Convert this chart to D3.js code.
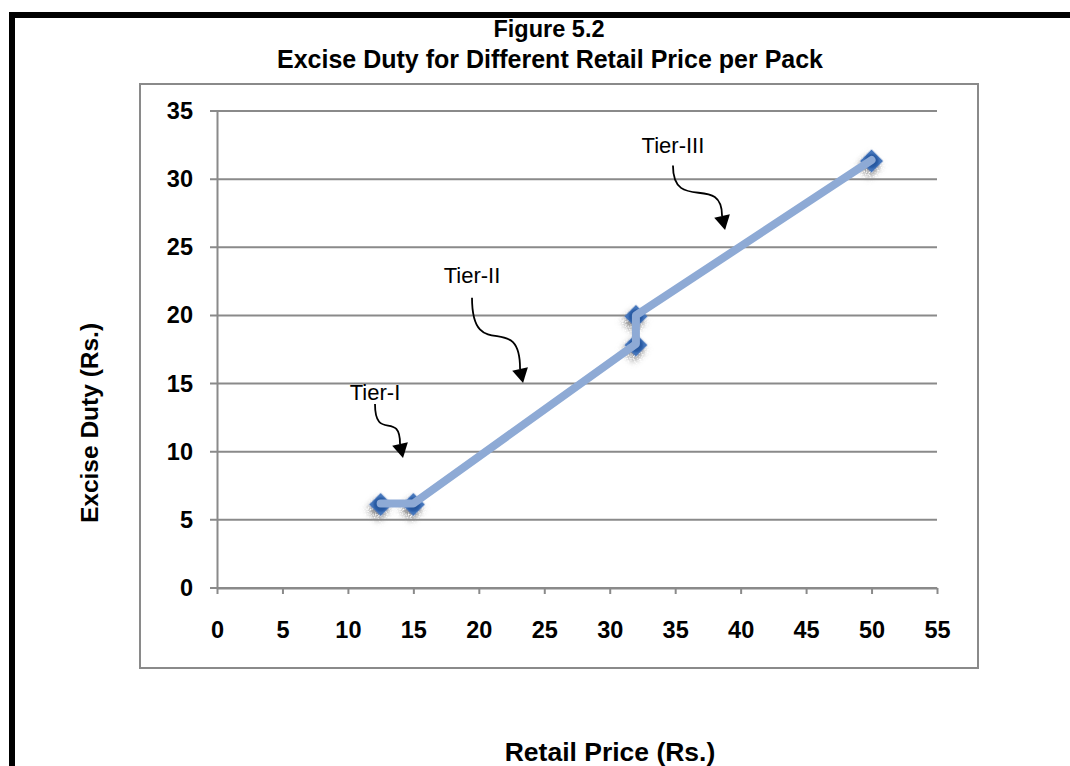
<!DOCTYPE html>
<html>
<head>
<meta charset="utf-8">
<script src="https://cdn.jsdelivr.net/npm/d3@7"></script>
<style>
  html, body { margin: 0; padding: 0; background: #fff; }
  svg { display: block; font-family: "Liberation Sans", Arial, sans-serif; }
</style>
</head>
<body>
<svg id="chart" width="1070" height="766"></svg>
<script>
// Retail price per pack (Rs.) and the excise duty charged at that price
const retailPrice = [12.5, 15, 32, 32, 50];
const exciseDuty  = [6.2, 6.2, 17.9, 20, 31.4];

const xTicks = [0, 5, 10, 15, 20, 25, 30, 35, 40, 45, 50, 55];
const yTicks = [0, 5, 10, 15, 20, 25, 30, 35];

// Tier callouts: label anchor, arrow start and arrow tip, in data units
const tierNames  = ["Tier-I", "Tier-II", "Tier-III"];
const tierLabelX = [12.07, 19.48, 34.83];
const tierLabelY = [13.8, 22.4, 31.9];
const tierStartY = [13.5, 21.3, 31.0];
const tierTipX   = [14.21, 23.38, 38.81];
const tierTipY   = [9.54, 15.04, 26.27];

const titleLines = ["Figure 5.2", "Excise Duty for Different Retail Price per Pack"];
const xTitle = "Retail Price (Rs.)";
const yTitle = "Excise Duty (Rs.)";

const svg = d3.select("#chart");
const gridColor = "#8a8a8a";
const FONT = "Liberation Sans, Arial, sans-serif";

// page frame (top and left rules)
svg.append("rect").attr("x", 9).attr("y", 12).attr("width", 1070).attr("height", 6).attr("fill", "#000");
svg.append("rect").attr("x", 9).attr("y", 12).attr("width", 6).attr("height", 760).attr("fill", "#000");

// chart area border
svg.append("rect")
  .attr("x", 140).attr("y", 84).attr("width", 838).attr("height", 584)
  .attr("fill", "none").attr("stroke", gridColor).attr("stroke-width", 2);

const x = d3.scaleLinear().domain([0, 55]).range([217, 937]);
const y = d3.scaleLinear().domain([0, 35]).range([588, 111]);

// horizontal gridlines
svg.append("g").selectAll("line").data(yTicks).join("line")
  .attr("x1", x(0) - 7).attr("x2", x(55))
  .attr("y1", d => y(d)).attr("y2", d => y(d))
  .attr("stroke", gridColor).attr("stroke-width", 2);

// y axis
const yAxis = svg.append("g").attr("transform", `translate(${x(0)},0)`)
  .call(d3.axisLeft(y).tickValues(yTicks).tickSizeInner(0).tickSizeOuter(0).tickPadding(24));
yAxis.select(".domain").attr("stroke", gridColor).attr("stroke-width", 2);
yAxis.selectAll("text").attr("font-size", 23.5).attr("font-weight", "bold").attr("fill", "#000")
  .attr("font-family", FONT);

// x axis
const xAxis = svg.append("g").attr("transform", `translate(0,${y(0)})`)
  .call(d3.axisBottom(x).tickValues(xTicks).tickSizeInner(6).tickSizeOuter(0).tickPadding(27));
xAxis.select(".domain").attr("stroke", gridColor).attr("stroke-width", 2);
xAxis.selectAll(".tick line").attr("stroke", gridColor).attr("stroke-width", 2);
xAxis.selectAll("text").attr("font-size", 23.5).attr("font-weight", "bold").attr("fill", "#000")
  .attr("font-family", FONT);

// grainy marker shadow
const defs = svg.append("defs");
const shadow = defs.append("filter").attr("id", "mshadow")
  .attr("x", "-80%").attr("y", "-80%").attr("width", "260%").attr("height", "260%");
shadow.append("feGaussianBlur").attr("in", "SourceAlpha").attr("stdDeviation", 3.5).attr("result", "b");
shadow.append("feOffset").attr("in", "b").attr("dx", 2).attr("dy", 5).attr("result", "o");
shadow.append("feTurbulence").attr("type", "fractalNoise").attr("baseFrequency", 1.1)
  .attr("numOctaves", 1).attr("seed", 3).attr("result", "n");
shadow.append("feColorMatrix").attr("in", "n").attr("type", "matrix")
  .attr("values", "0 0 0 0 0.22  0 0 0 0 0.22  0 0 0 0 0.22  10 0 0 0 -3.8").attr("result", "g");
shadow.append("feComposite").attr("in", "g").attr("in2", "o").attr("operator", "in").attr("result", "s");
const merge = shadow.append("feMerge");
merge.append("feMergeNode").attr("in", "s");
merge.append("feMergeNode").attr("in", "SourceGraphic");

const grad = defs.append("radialGradient").attr("id", "mfill");
grad.append("stop").attr("offset", "0%").attr("stop-color", "#1f4c8f");
grad.append("stop").attr("offset", "75%").attr("stop-color", "#2a5da6");
grad.append("stop").attr("offset", "100%").attr("stop-color", "#4576bb");

const pts = retailPrice.map((p, i) => [p, exciseDuty[i]]);

// diamond markers
const diamond = d3.symbol().type(d3.symbolSquare).size(270);
svg.append("g").selectAll("path").data(pts).join("path")
  .attr("d", diamond)
  .attr("transform", d => `translate(${x(d[0])},${y(d[1]) + 1}) rotate(45)`)
  .attr("fill", "url(#mfill)")
  .attr("filter", "url(#mshadow)");

// duty line
svg.append("path").datum(pts)
  .attr("d", d3.line().x(d => x(d[0])).y(d => y(d[1])))
  .attr("fill", "none").attr("stroke", "#8eaad5").attr("stroke-width", 8)
  .attr("stroke-linejoin", "round").attr("stroke-linecap", "round");

// tier callouts with curved arrows
const callouts = svg.append("g");
tierNames.forEach((name, i) => {
  const lx = x(tierLabelX[i]);
  const ly = y(tierLabelY[i]);
  callouts.append("text").attr("x", lx).attr("y", ly)
    .attr("text-anchor", "middle").attr("font-size", 22).attr("fill", "#000").text(name);

  const sx = lx, sy = y(tierStartY[i]);
  const tx = x(tierTipX[i]), ty = y(tierTipY[i]);
  const bx = tx - 3, by = ty - 14;       // arrowhead base centre
  const dy = by - sy;
  callouts.append("path")
    .attr("d", `M${sx},${sy} C${sx},${sy + dy * 0.95} ${bx},${by - dy * 0.85} ${bx},${by}`)
    .attr("fill", "none").attr("stroke", "#000").attr("stroke-width", 1.8);
  // arrowhead
  const ang = Math.atan2(ty - by, tx - bx);
  const half = 8;
  const px = -Math.sin(ang) * half, py = Math.cos(ang) * half;
  callouts.append("path")
    .attr("d", `M${tx},${ty} L${bx + px},${by + py} L${bx - px},${by - py} Z`)
    .attr("fill", "#000");
});

// titles
svg.append("text").attr("x", 549).attr("y", 37).attr("text-anchor", "middle")
  .attr("font-size", 23.5).attr("font-weight", "bold").text(titleLines[0]);
svg.append("text").attr("x", 550).attr("y", 68).attr("text-anchor", "middle")
  .attr("font-size", 25).attr("font-weight", "bold").text(titleLines[1]);

svg.append("text").attr("transform", "translate(98,423) rotate(-90)")
  .attr("text-anchor", "middle").attr("font-size", 24.5).attr("font-weight", "bold").text(yTitle);

svg.append("text").attr("x", 610).attr("y", 761).attr("text-anchor", "middle")
  .attr("font-size", 26.5).attr("font-weight", "bold").text(xTitle);
</script>
</body>
</html>
